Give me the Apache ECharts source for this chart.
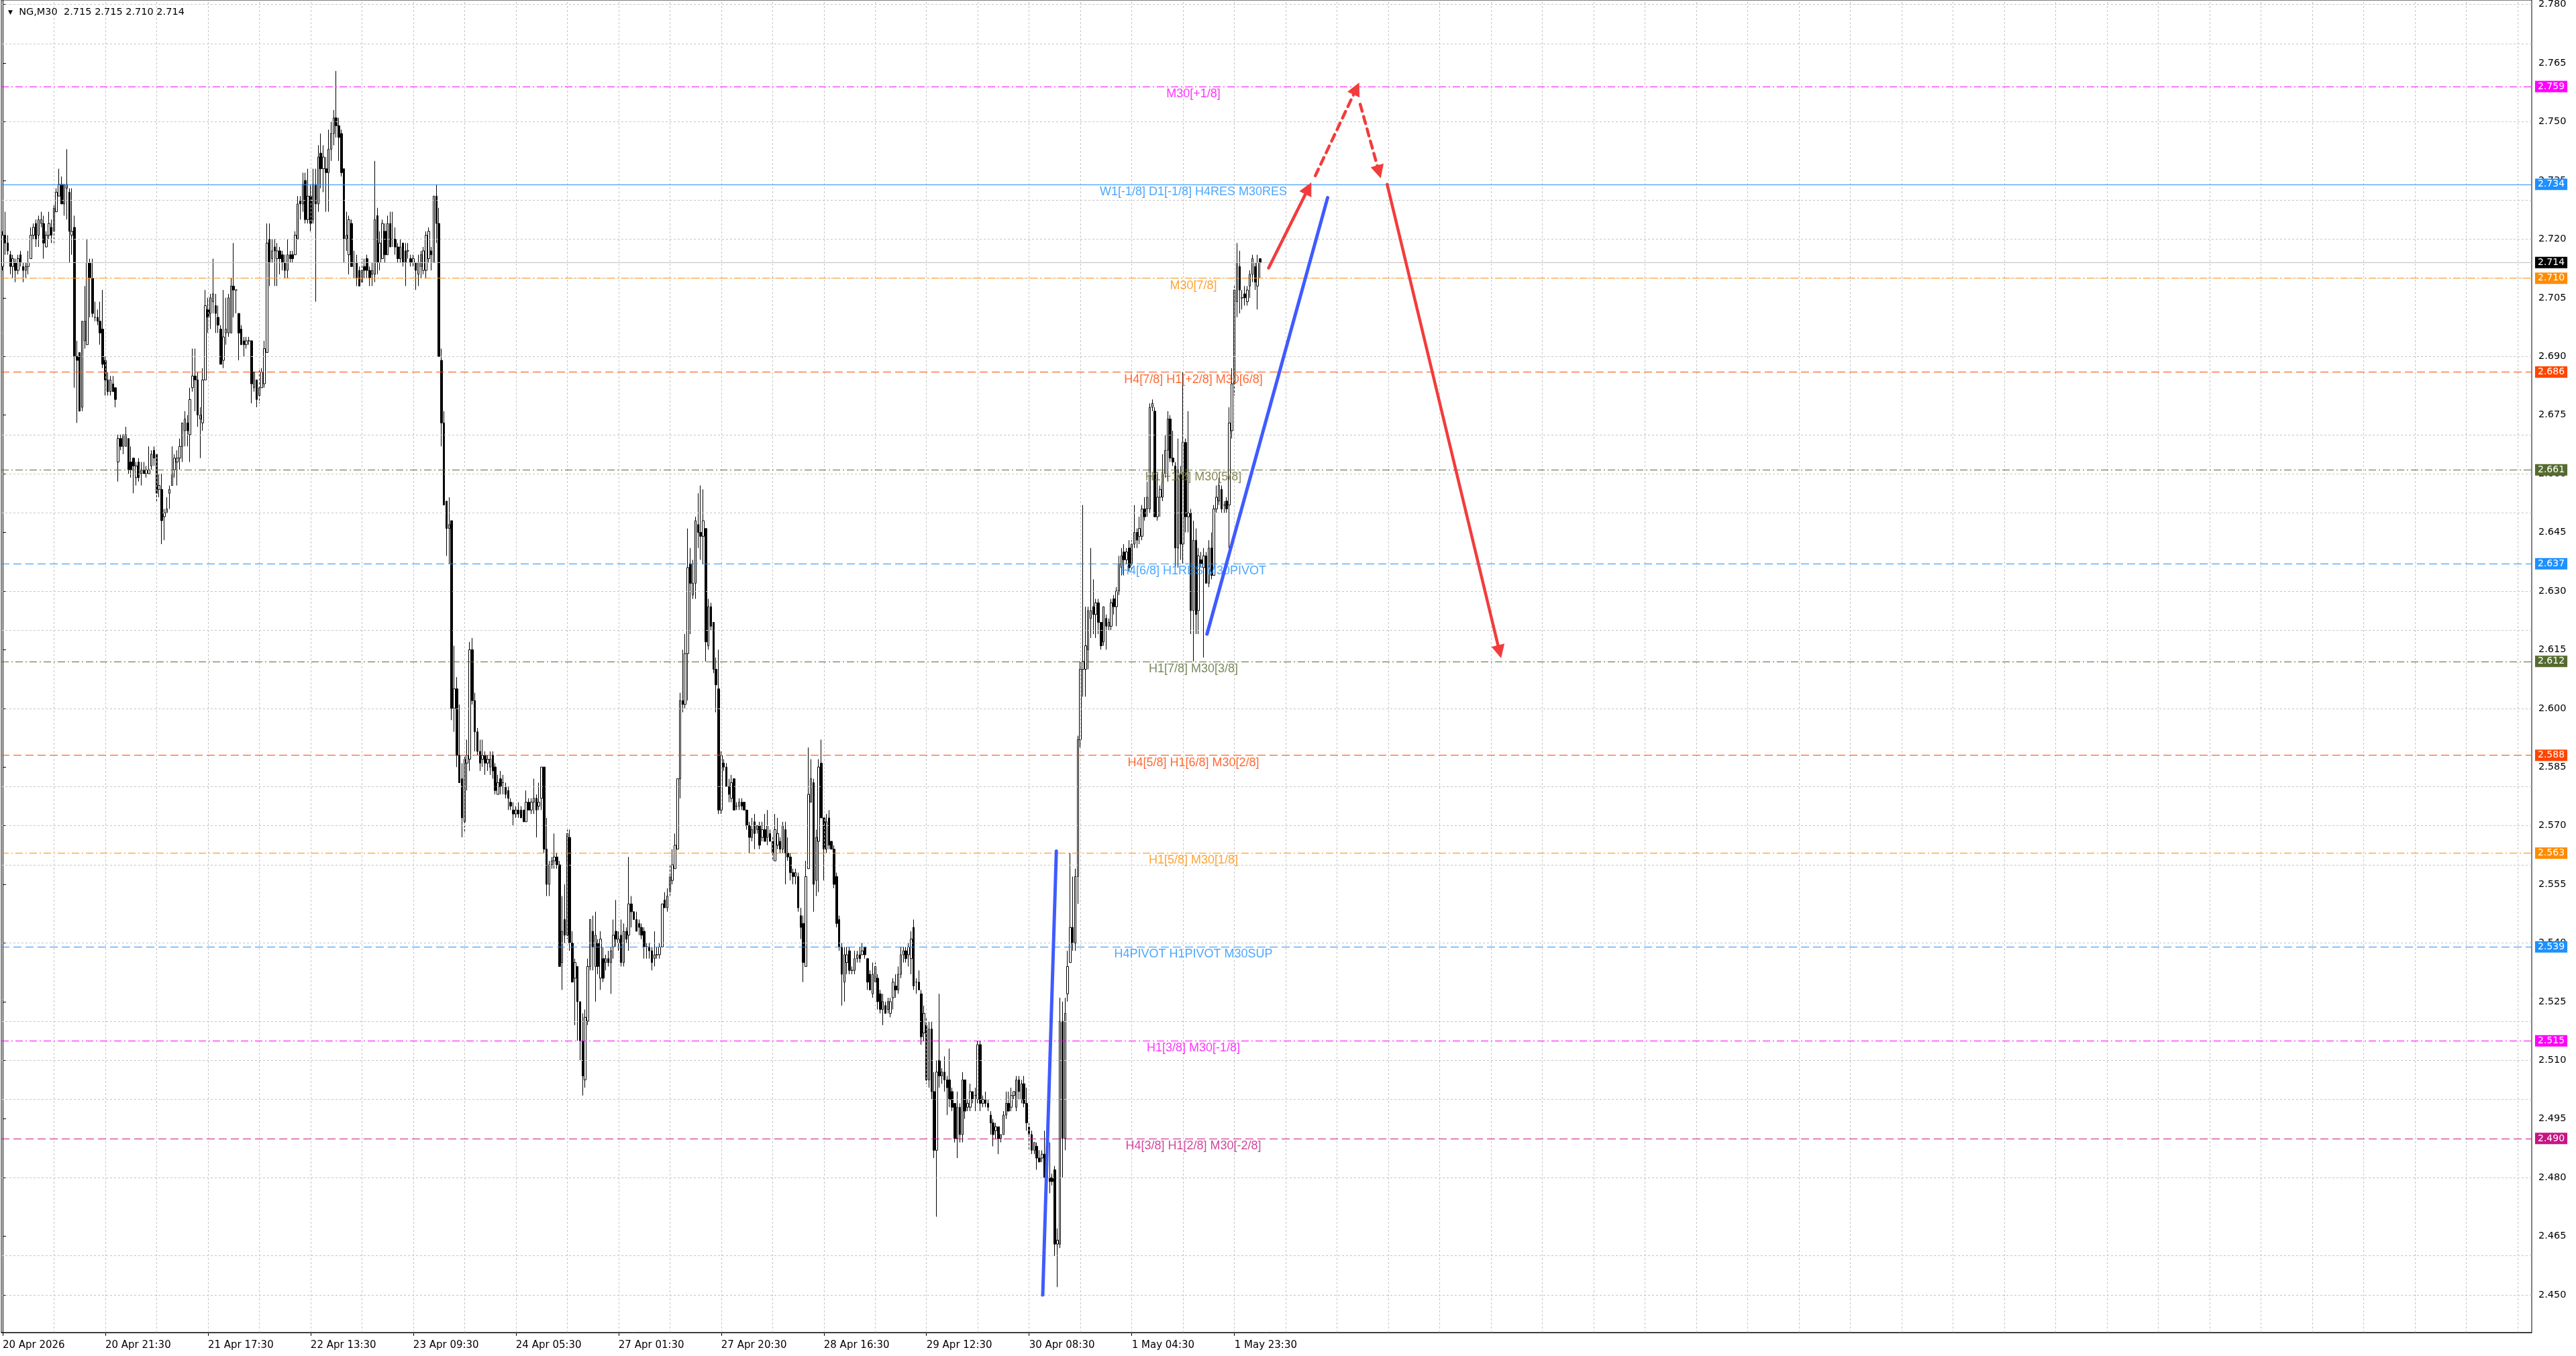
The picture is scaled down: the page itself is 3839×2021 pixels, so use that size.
<!DOCTYPE html>
<html>
<head>
<meta charset="utf-8">
<script src="https://cdn.jsdelivr.net/npm/echarts/dist/echarts.min.js"></script>
<style>
html,body{margin:0;padding:0;background:#ffffff;}
#chart{width:3839px;height:2021px;}
</style>
</head>
<body>
<div id="chart"></div>
<script>
// ---------------- DATA ----------------
const instrument = 'NG';
const timeframe = 'M30';
const timeLabels = ['20 Apr 2026','20 Apr 21:30','21 Apr 17:30','22 Apr 13:30','23 Apr 09:30','24 Apr 05:30',
  '27 Apr 01:30','27 Apr 20:30','28 Apr 16:30','29 Apr 12:30','30 Apr 08:30','1 May 04:30','1 May 23:30'];
const barsPerTimeLabel = 40;
const priceTicks = [2.450,2.465,2.480,2.495,2.510,2.525,2.540,2.555,2.570,2.585,2.600,2.615,2.630,2.645,
  2.660,2.675,2.690,2.705,2.720,2.735,2.750,2.765,2.780];

// bars: [open, high, low, close] in thousandths
const bars20to22Apr = [
[2713,2722,2712,2721],[2721,2727,2716,2719],[2719,2721,2716,2717],[2716,2717,2711,2713],[2713,2716,2710,2715],
[2714,2715,2709,2712],[2712,2716,2711,2715],[2716,2717,2713,2714],[2713,2714,2709,2712],[2712,2714,2710,2713],
[2713,2717,2711,2714],[2715,2723,2715,2721],[2721,2724,2720,2723],[2724,2725,2718,2720],[2721,2726,2718,2725],
[2724,2727,2723,2725],[2724,2726,2715,2719],[2718,2722,2718,2721],[2721,2727,2720,2724],[2723,2725,2719,2721],
[2722,2729,2719,2728],[2727,2733,2727,2732],[2731,2738,2731,2734],[2734,2736,2729,2729],[2729,2734,2726,2734],
[2733,2743,2725,2734],[2732,2733,2714,2722],[2721,2733,2716,2722],[2723,2726,2682,2690],[2690,2694,2673,2689],
[2691,2691,2676,2676],[2677,2699,2676,2699],[2694,2708,2692,2699],[2693,2720,2693,2714],[2714,2715,2700,2710],
[2710,2715,2700,2701],[2700,2704,2699,2700],[2700,2702,2698,2699],[2699,2704,2693,2696],[2697,2707,2687,2688],
[2689,2690,2680,2684],[2684,2686,2680,2681],[2681,2685,2680,2684],[2683,2685,2681,2681],[2682,2682,2677,2679],
[2663,2670,2658,2669],[2669,2670,2666,2667],[2667,2670,2665,2670],[2667,2672,2667,2670],[2669,2669,2660,2661],
[2663,2667,2659,2661],[2664,2664,2655,2662],[2659,2663,2657,2662],[2663,2664,2658,2659],[2660,2663,2657,2661],
[2661,2663,2660,2660],[2660,2662,2659,2661],[2660,2667,2660,2661],[2662,2666,2661,2665],[2666,2667,2662,2664],
[2665,2665,2653,2655],[2656,2660,2654,2657],[2656,2660,2642,2648],[2649,2651,2643,2650],[2650,2654,2650,2651],
[2655,2657,2651,2656],[2657,2667,2657,2660],[2661,2665,2659,2664],[2663,2666,2657,2664],[2664,2669,2661,2667],
[2667,2673,2663,2673],[2671,2676,2667,2674],[2673,2675,2667,2671],[2670,2682,2663,2679],[2682,2692,2681,2685],
[2685,2692,2676,2684],[2684,2686,2672,2675],[2674,2677,2664,2675],[2673,2687,2671,2684],[2684,2707,2684,2703],
[2702,2705,2696,2700],[2701,2706,2697,2705],[2704,2715,2701,2706],[2703,2706,2696,2701],[2700,2703,2696,2698],
[2697,2698,2688,2688],[2689,2707,2687,2695],[2696,2705,2693,2697],[2696,2706,2695,2705],[2696,2710,2696,2708],
[2708,2719,2700,2707],[2707,2707,2701,2707],[2701,2701,2689,2696],[2697,2698,2693,2693],[2694,2695,2690,2693],
[2693,2695,2692,2694],[2694,2695,2693,2694],[2694,2694,2678,2683],[2682,2686,2681,2686],[2684,2684,2677,2679],
[2680,2687,2678,2682],[2682,2687,2682,2686],[2683,2694,2682,2692],[2691,2724,2691,2719],[2720,2724,2708,2714],
[2715,2720,2714,2717],[2718,2720,2708,2717],[2715,2719,2708,2717],[2717,2718,2711,2715],[2716,2717,2712,2714],
[2714,2716,2710,2712],[2712,2720,2710,2716],[2716,2717,2714,2715],[2716,2717,2714,2715],[2716,2722,2716,2721],
[2720,2731,2720,2729],[2730,2731,2725,2729],[2729,2737,2727,2734],[2735,2737,2724,2725],[2725,2738,2724,2731],
[2731,2734,2722,2724],[2725,2738,2724,2734],[2734,2738,2704,2729],[2729,2744,2727,2741],[2742,2747,2733,2738],
[2738,2744,2732,2741],[2738,2741,2727,2737],[2737,2748,2727,2743]
];
const bars22to23Apr = [
[2743,2750,2740,2747],[2747,2753,2744,2751],[2751,2763,2746,2749],[2749,2751,2740,2746],
[2747,2748,2736,2737],[2738,2738,2714,2720],[2720,2727,2717,2721],[2716,2726,2711,2725],[2724,2725,2713,2713],
[2714,2717,2710,2714],[2714,2716,2708,2710],[2712,2713,2708,2708],[2709,2715,2709,2712],[2713,2715,2710,2712],
[2715,2716,2710,2712],[2712,2713,2708,2710],[2711,2714,2708,2712],[2711,2740,2709,2725],[2726,2728,2711,2714],
[2714,2722,2712,2719],[2715,2725,2715,2724],[2722,2724,2714,2716],[2716,2726,2716,2724],[2724,2727,2718,2718],
[2720,2727,2718,2720],[2720,2723,2716,2718],[2718,2719,2714,2715],[2715,2720,2714,2718],[2719,2719,2713,2714],
[2717,2719,2708,2714],[2717,2719,2715,2717],[2715,2716,2713,2714],[2714,2716,2713,2715],[2714,2714,2707,2712],
[2711,2716,2708,2714],[2713,2717,2710,2716],[2712,2718,2711,2717],[2712,2722,2710,2721],[2715,2723,2714,2722],
[2717,2718,2712,2716],[2714,2731,2714,2731],[2731,2734,2719,2724]
];
const bars23to29Apr = [
[2724,2728,2690,2690],[2689,2692,2667,2673],[2673,2676,2652,2652],[2653,2653,2639,2646],[2646,2654,2637,2647],
[2648,2648,2597,2600],[2600,2616,2594,2605],[2605,2608,2585,2588],[2588,2601,2581,2581],[2582,2586,2567,2572],
[2571,2588,2568,2587],[2586,2592,2579,2588],[2587,2617,2584,2615],[2615,2618,2601,2602],[2602,2604,2589,2594],
[2594,2595,2588,2589],[2589,2592,2584,2586],[2587,2592,2585,2588],[2588,2589,2583,2586],[2586,2588,2584,2587],
[2585,2589,2583,2587],[2588,2589,2582,2584],[2585,2586,2578,2579],[2578,2583,2578,2581],[2582,2584,2578,2580],
[2581,2583,2578,2581],[2580,2581,2577,2578],[2579,2580,2574,2577],[2576,2577,2574,2575],[2574,2576,2570,2573],
[2573,2575,2572,2574],[2574,2576,2572,2573],[2574,2575,2572,2572],[2574,2574,2571,2571],[2571,2579,2571,2576],
[2576,2577,2574,2574],[2574,2577,2573,2576],[2576,2582,2573,2577],[2577,2578,2567,2574],[2575,2581,2574,2576],
[2577,2585,2574,2585],[2585,2585,2563,2564],[2564,2572,2552,2555],[2555,2561,2552,2560],[2560,2562,2559,2561],
[2561,2568,2559,2562],[2562,2563,2559,2560],[2560,2561,2534,2534],[2535,2552,2528,2543],[2546,2555,2540,2542],
[2542,2569,2541,2568],[2567,2569,2538,2540],[2540,2543,2530,2530],[2531,2536,2519,2535],[2534,2534,2515,2525],
[2525,2525,2510,2515],[2515,2522,2501,2506],[2505,2523,2503,2521],[2520,2536,2519,2534],[2534,2546,2533,2546],
[2543,2547,2533,2539],[2534,2548,2525,2542],[2540,2541,2532,2534],[2531,2543,2528,2541],[2536,2539,2530,2531],
[2535,2537,2533,2536],[2536,2538,2534,2535],[2535,2539,2527,2538],[2539,2546,2536,2542],[2543,2551,2539,2541],
[2540,2543,2538,2541],[2542,2546,2534,2535],[2535,2545,2534,2543],[2543,2544,2540,2541],[2542,2562,2538,2550],
[2550,2552,2544,2548],[2548,2548,2546,2546],[2546,2548,2543,2543],[2545,2546,2542,2544],[2544,2545,2541,2542],
[2543,2544,2536,2539],[2539,2540,2536,2539],[2539,2540,2536,2538],[2538,2539,2533,2535],[2536,2543,2534,2537],
[2537,2539,2536,2537],[2537,2540,2536,2539],[2539,2550,2539,2550],[2551,2553,2549,2549],[2549,2554,2548,2552],
[2553,2560,2552,2557],[2556,2564,2555,2560],[2559,2568,2559,2565],[2564,2582,2564,2582],[2582,2604,2577,2602],
[2602,2615,2599,2601],[2601,2619,2600,2614],[2614,2646,2602,2636],[2637,2641,2619,2632],[2629,2638,2628,2632],
[2632,2649,2628,2648],[2647,2655,2641,2645],[2645,2657,2638,2644],[2644,2656,2637,2648],[2646,2646,2612,2617],
[2616,2628,2615,2626],[2626,2627,2620,2621],[2622,2622,2609,2610],[2610,2613,2599,2606],[2605,2615,2573,2574],
[2574,2589,2573,2588],[2586,2587,2584,2585],[2585,2586,2580,2580],[2580,2582,2576,2578],[2577,2583,2576,2581],
[2582,2582,2574,2574],[2575,2576,2574,2575],[2575,2577,2574,2576],[2576,2577,2574,2575],[2576,2576,2574,2574],
[2574,2574,2569,2570],[2570,2571,2563,2567],[2567,2572,2566,2569],[2571,2573,2564,2568],[2569,2570,2568,2570],
[2570,2571,2564,2565],[2567,2571,2566,2569],[2569,2573,2566,2566],[2567,2574,2565,2570],[2568,2569,2566,2566],
[2566,2567,2561,2563],[2561,2573,2561,2569],[2565,2572,2564,2568],[2566,2567,2563,2564],[2564,2571,2563,2570],
[2569,2571,2555,2563],[2563,2567,2561,2562],[2562,2563,2556,2558],[2558,2559,2555,2557],[2557,2559,2555,2558],
[2557,2558,2548,2549],[2547,2549,2541,2544],[2545,2547,2530,2535],[2534,2561,2534,2557],[2559,2590,2559,2578],
[2576,2587,2576,2582],[2581,2582,2548,2555],[2556,2569,2552,2567],[2566,2587,2553,2585],[2586,2592,2572,2572],
[2572,2572,2556,2564],[2564,2573,2563,2571],[2572,2574,2564,2565],[2566,2566,2564,2564],[2564,2565,2554,2555],
[2557,2558,2544,2545],[2546,2547,2538,2539],[2539,2540,2524,2532],[2530,2539,2525,2537],[2535,2539,2532,2537],
[2538,2539,2532,2533],[2533,2534,2532,2533],[2533,2538,2532,2536],[2536,2538,2535,2537],[2537,2539,2535,2536],
[2537,2540,2537,2538],[2539,2539,2536,2537],[2536,2536,2528,2530],[2532,2533,2528,2528],[2527,2535,2526,2532],
[2530,2535,2530,2534],[2531,2532,2523,2525],[2527,2528,2522,2523],[2523,2527,2519,2525],[2524,2525,2522,2522],
[2523,2526,2522,2525],[2522,2526,2521,2525],[2526,2531,2523,2530]
];
const bars29Aprto1May = [
[2529,2532,2526,2528],
[2528,2534,2527,2532],[2532,2539,2531,2537],[2537,2539,2535,2538],[2538,2539,2535,2536],[2537,2540,2534,2539],
[2536,2543,2532,2541],[2544,2546,2528,2529],[2530,2531,2527,2530],[2530,2533,2528,2528],[2527,2528,2514,2516],
[2517,2524,2515,2522],[2519,2521,2504,2505],[2505,2520,2503,2518],[2518,2520,2500,2502],[2502,2507,2485,2487],
[2487,2510,2470,2507],[2510,2527,2503,2506],[2506,2508,2504,2507],[2507,2511,2502,2505],[2505,2506,2496,2503],
[2505,2513,2498,2500],[2502,2503,2497,2498],[2499,2499,2489,2490],[2490,2502,2485,2498],[2498,2499,2489,2491],
[2491,2507,2489,2505],[2505,2505,2495,2497],[2498,2500,2497,2499],[2498,2504,2497,2502],[2502,2502,2499,2500],
[2501,2503,2497,2501],[2500,2515,2499,2514],[2514,2515,2497,2499],[2499,2501,2498,2500],[2500,2502,2498,2499],
[2499,2500,2497,2498],[2496,2497,2491,2494],[2494,2495,2488,2491],[2492,2494,2490,2493],[2493,2493,2486,2490],
[2490,2491,2489,2491],[2491,2497,2491,2496],[2496,2502,2495,2499],[2499,2502,2497,2497],[2498,2503,2497,2501],
[2501,2502,2500,2502],[2498,2506,2497,2505],[2505,2506,2500,2502],[2500,2505,2499,2504],[2504,2506,2498,2499],
[2499,2503,2492,2494],[2493,2494,2487,2491],[2491,2492,2486,2487],[2487,2489,2486,2489],[2488,2489,2482,2485],
[2485,2487,2484,2484],[2485,2487,2484,2486],[2486,2492,2480,2480],[2483,2484,2476,2480],[2480,2489,2476,2479],
[2480,2481,2478,2479],[2482,2483,2460,2463],[2463,2467,2452,2464],[2463,2526,2462,2520],[2520,2525,2480,2490],
[2490,2526,2487,2522],[2527,2538,2525,2534],[2535,2563,2535,2544],[2544,2557,2538,2540],[2540,2559,2538,2557],
[2557,2593,2550,2592],[2592,2612,2590,2610],[2610,2652,2603,2612],[2610,2626,2603,2616],[2615,2626,2610,2625],
[2623,2641,2618,2625],[2626,2633,2619,2624],[2624,2628,2618,2627],[2627,2628,2619,2622],[2622,2622,2615,2616],
[2617,2626,2616,2626],[2623,2624,2615,2621],[2621,2623,2620,2622],[2621,2628,2620,2627],[2628,2629,2624,2626],
[2626,2631,2621,2630],[2630,2639,2629,2637],[2636,2641,2634,2639],[2640,2642,2634,2638],[2638,2641,2637,2640],
[2641,2643,2635,2636],[2637,2643,2635,2642],[2642,2652,2641,2645],[2645,2646,2641,2643],[2644,2649,2642,2646],
[2644,2652,2643,2651],[2651,2654,2648,2649],[2651,2658,2649,2654],[2651,2678,2650,2677],[2677,2679,2676,2678],
[2676,2677,2649,2649],[2649,2660,2648,2654],[2654,2657,2649,2656],[2654,2665,2653,2660],[2660,2670,2659,2666],
[2666,2676,2658,2674],[2674,2675,2663,2664],[2664,2671,2662,2663],[2662,2663,2636,2641],[2641,2669,2636,2661],
[2660,2662,2638,2642],[2642,2686,2637,2668],[2668,2669,2645,2649],[2649,2676,2645,2650],[2650,2651,2619,2625],
[2625,2648,2612,2643],[2643,2646,2619,2624],[2625,2641,2619,2639],[2638,2640,2636,2637],[2636,2641,2613,2639],
[2639,2640,2632,2632],[2632,2643,2631,2641],[2641,2645,2633,2634],[2634,2652,2634,2651],[2651,2657,2650,2654],
[2653,2659,2652,2657],[2656,2657,2650,2651],[2652,2653,2650,2652],[2653,2654,2650,2651],[2652,2677,2641,2673],
[2671,2687,2669,2683],[2683,2708,2680,2707],[2704,2719,2700,2714],[2713,2717,2701,2707],[2705,2707,2702,2705],
[2706,2708,2703,2705],[2704,2708,2703,2707],[2708,2712,2705,2711],[2711,2716,2709,2715],[2713,2714,2707,2709],
[2708,2716,2702,2714],[2715,2715,2710,2714]
];

// Murrey-math style levels drawn on the chart
const levelPrices = [2.759, 2.734, 2.710, 2.686, 2.661, 2.637, 2.612, 2.588, 2.563, 2.539, 2.515, 2.490];
const levelNames = ['M30[+1/8]', 'W1[-1/8] D1[-1/8] H4RES M30RES', 'M30[7/8]', 'H4[7/8] H1[+2/8] M30[6/8]',
  'H1[+1/8] M30[5/8]', 'H4[6/8] H1RES M30PIVOT', 'H1[7/8] M30[3/8]', 'H4[5/8] H1[6/8] M30[2/8]',
  'H1[5/8] M30[1/8]', 'H4PIVOT H1PIVOT M30SUP', 'H1[3/8] M30[-1/8]', 'H4[3/8] H1[2/8] M30[-2/8]'];

// drawn trend lines / forecast arrows: [barIndex, price]
const blueLine1 = [[405.3, 2.4500], [410.6, 2.5635]];
const blueLine2 = [[469.3, 2.6190], [516.3, 2.7306]];
const redArrowUp = [[493.3, 2.7126], [508.8, 2.7330]];
const redDashUp = [[511.5, 2.7362], [527.5, 2.7585]];
const redDashDown = [[529.0, 2.7545], [536.3, 2.7372]];
const redArrowDown = [[539.5, 2.7340], [583.3, 2.6145]];

// ---------------- STYLE / LAYOUT ----------------
const W = 3839, H = 2021;
const PLOT_LEFT = 2, PLOT_RIGHT = 3773, PLOT_TOP = 0, PLOT_BOTTOM = 1986;
const NSLOTS = 986;
const Y_MIN = 2.44039, Y_MAX = 2.78115;
const LABEL_BAR = 464;
const levelColors = ['#ff00ff','#1e90ff','#ff8c00','#ff4500','#556b2f','#1e90ff','#556b2f','#ff4500','#ff8c00','#1e90ff','#ff00ff','#c71585'];
const levelTextColors = ['#ff00ff','#1e90ff','#ff8c00','#ff4500','#6b6b2f','#1e90ff','#556b2f','#ff4500','#ff8c00','#1e90ff','#ff00ff','#c71585'];
const DASH = [12, 6];
const DASHDOT = [11, 4, 2, 4];
const levelDash = [DASHDOT, 'solid', DASHDOT, DASH, DASHDOT, DASH, DASHDOT, DASH, DASHDOT, DASH, DASHDOT, DASH];
const BLUE = '#3f5bff', RED = '#f23c3c';
const AXIS_FONT = 'DejaVu Sans';

const allBars = [].concat(bars20to22Apr, bars22to23Apr, bars23to29Apr, bars29Aprto1May);
const candleData = allBars.map(b => {
  const o = b[0] / 1000, h = b[1] / 1000, l = b[2] / 1000, c = b[3] / 1000;
  return [o, c, Math.min(l, o, c), Math.max(h, o, c)];
});
const last = allBars[allBars.length - 1];
const lastClose = last[3] / 1000;
const fmt = v => (v / 1000).toFixed(3);

const slots = [];
for (let i = 0; i < NSLOTS; i++) slots.push(String(i));
const isLabelSlot = (i) => i % barsPerTimeLabel === 0 && (i / barsPerTimeLabel) < timeLabels.length;

const vGrid = [];
for (let i = 20; i < NSLOTS; i += 20) vGrid.push({ xAxis: i });
const hGrid = priceTicks.map(v => ({ yAxis: v }));

const levelLines = levelPrices.map((p, k) => ({
  yAxis: p,
  lineStyle: { color: levelColors[k], type: levelDash[k], width: 1.2, opacity: 1 },
  label: { show: true, position: 'end', distance: 5, formatter: () => p.toFixed(3),
    backgroundColor: levelColors[k], color: '#ffffff', padding: [2, 4, 1, 4],
    fontFamily: AXIS_FONT, fontSize: 14 }
}));
levelLines.push({
  yAxis: lastClose,
  lineStyle: { color: '#c0c0c0', type: 'solid', width: 1, opacity: 1 },
  label: { show: true, position: 'end', distance: 5, formatter: () => lastClose.toFixed(3),
    backgroundColor: '#000000', color: '#ffffff', padding: [2, 4, 1, 4],
    fontFamily: AXIS_FONT, fontSize: 14 }
});

const chart = echarts.init(document.getElementById('chart'), null, { renderer: 'canvas', width: W, height: H });
chart.setOption({
  animation: false,
  backgroundColor: '#ffffff',
  title: {
    text: '{t|▼}  ' + instrument + ',' + timeframe + '  ' + [last[0], last[1], last[2], last[3]].map(fmt).join(' '),
    left: 7, top: 6,
    textStyle: { fontFamily: AXIS_FONT, fontSize: 14.5, fontWeight: 'normal', color: '#000000',
      rich: { t: { fontSize: 9, color: '#000000', fontFamily: AXIS_FONT } } }
  },
  grid: {
    left: PLOT_LEFT, right: W - PLOT_RIGHT, top: PLOT_TOP, bottom: H - PLOT_BOTTOM,
    show: true, borderColor: '#000000', borderWidth: 1, backgroundColor: '#ffffff',
    containLabel: false, outerBoundsMode: 'none'
  },
  xAxis: [{
    type: 'category', data: slots, boundaryGap: true,
    axisLine: { show: true, lineStyle: { color: '#000000', width: 1 } },
    axisTick: { show: true, interval: (i) => isLabelSlot(i), alignWithLabel: true, length: 5, lineStyle: { color: '#000000' } },
    axisLabel: { show: true, interval: (i) => isLabelSlot(i),
      formatter: (v) => { const i = Number(v); return isLabelSlot(i) ? timeLabels[i / barsPerTimeLabel] : ''; },
      align: 'left', margin: 12, fontFamily: AXIS_FONT, fontSize: 15, color: '#000000' },
    splitLine: { show: false }
  }, {
    type: 'value', min: -0.5, max: NSLOTS - 0.5, show: false
  }],
  yAxis: [{
    type: 'value', position: 'right', min: Y_MIN, max: Y_MAX, scale: true,
    axisLine: { show: true, lineStyle: { color: '#000000', width: 1 } },
    axisTick: { show: true, customValues: priceTicks, length: 5, lineStyle: { color: '#000000' } },
    axisLabel: { show: true, customValues: priceTicks, formatter: (v) => v.toFixed(3), margin: 10,
      fontFamily: AXIS_FONT, fontSize: 14.5, color: '#000000' },
    splitLine: { show: false }
  }],
  series: [
    {
      name: 'grid', type: 'line', xAxisIndex: 1, yAxisIndex: 0, data: [], silent: true, z: 1,
      markLine: { silent: true, symbol: 'none', animation: false, label: { show: false },
        lineStyle: { color: '#c4c4c4', type: [3, 3], width: 1 },
        data: hGrid.concat(vGrid) }
    },
    {
      name: 'NG', type: 'candlestick', xAxisIndex: 0, yAxisIndex: 0, data: candleData, barWidth: 3, z: 3,
      silent: true,
      itemStyle: { color: '#ffffff', color0: '#000000', borderColor: '#000000', borderColor0: '#000000', borderWidth: 1 }
    },
    {
      name: 'levels', type: 'line', xAxisIndex: 1, yAxisIndex: 0, data: [], silent: true, z: 4,
      markLine: { silent: true, symbol: 'none', animation: false, precision: 3, data: levelLines }
    },
    {
      name: 'levelText', type: 'scatter', xAxisIndex: 1, yAxisIndex: 0, symbolSize: 0, silent: true, z: 5,
      data: levelPrices.map((p, k) => ({ value: [LABEL_BAR, p], label: { color: levelTextColors[k] } })),
      label: { show: true, position: 'bottom', distance: 2, formatter: (pp) => levelNames[pp.dataIndex],
        fontFamily: 'Liberation Sans', fontSize: 18 }
    },
    {
      name: 'blueTrend', type: 'lines', coordinateSystem: 'cartesian2d', xAxisIndex: 1, yAxisIndex: 0, z: 6,
      silent: true, symbol: 'none',
      lineStyle: { color: BLUE, width: 5, opacity: 1, cap: 'round' },
      data: [{ coords: blueLine1 }, { coords: blueLine2 }]
    },
    {
      name: 'redSolid', type: 'lines', coordinateSystem: 'cartesian2d', xAxisIndex: 1, yAxisIndex: 0, z: 6,
      silent: true, symbol: ['none', 'triangle'], symbolSize: [16, 20],
      lineStyle: { color: RED, width: 4.5, opacity: 1, cap: 'round' },
      data: [{ coords: redArrowUp }, { coords: redArrowDown }]
    },
    {
      name: 'redDashed', type: 'lines', coordinateSystem: 'cartesian2d', xAxisIndex: 1, yAxisIndex: 0, z: 6,
      silent: true, symbol: ['none', 'triangle'], symbolSize: [16, 20],
      lineStyle: { color: RED, width: 4.5, opacity: 1, type: [11, 8], cap: 'round' },
      data: [{ coords: redDashUp }, { coords: redDashDown }]
    }
  ]
});
</script>
</body>
</html>
